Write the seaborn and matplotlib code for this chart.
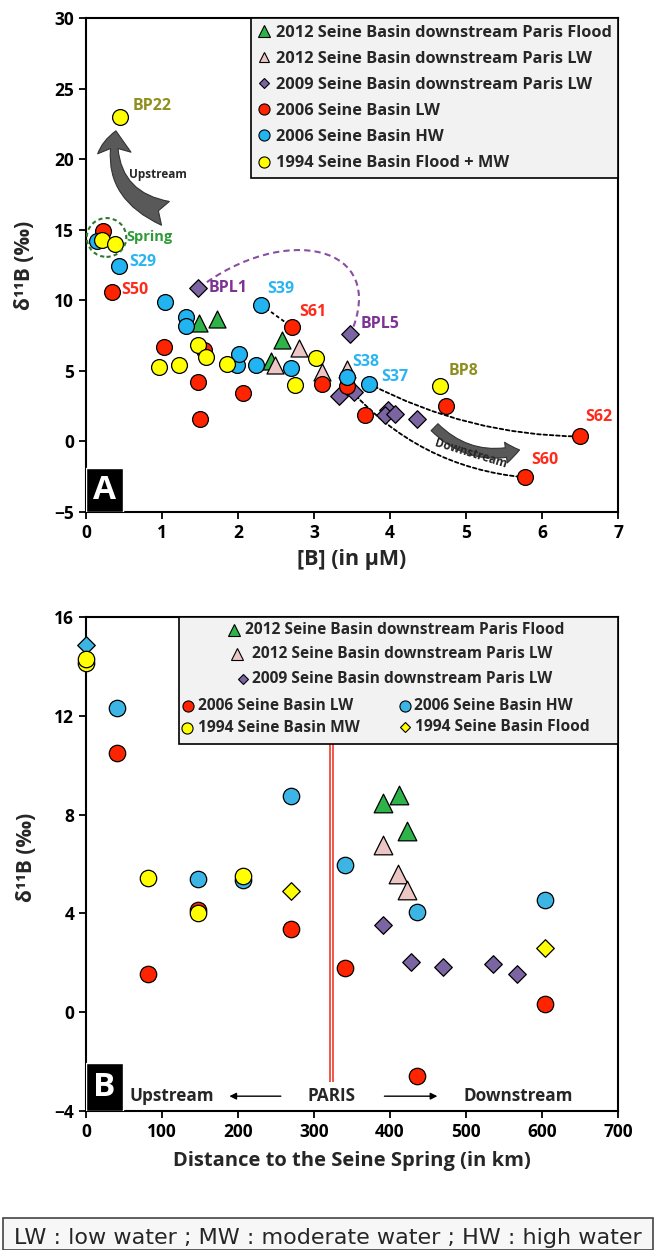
import numpy as np
import pandas as pd
import matplotlib
matplotlib.use("Agg")
import matplotlib.pyplot as plt
import seaborn as sns
from matplotlib.lines import Line2D
from matplotlib.patches import Rectangle, Ellipse, FancyArrowPatch, PathPatch
from matplotlib.path import Path

# ---- panel A : d11B vs [B] ----
a_flood12_x = [1.49, 1.73, 2.58, 2.43]
a_flood12_y = [8.4, 8.7, 7.2, 5.7]
a_lw12_x = [2.49, 2.80, 3.10, 3.43]
a_lw12_y = [5.45, 6.6, 4.9, 5.1]
a_lw09_x = [1.48, 3.48, 3.33, 3.53, 3.98, 3.94, 4.07, 4.36]
a_lw09_y = [10.85, 7.6, 3.2, 3.5, 2.25, 1.85, 1.95, 1.6]
a_lw06_x = [0.22, 0.34, 1.03, 1.47, 1.50, 1.55, 2.06, 2.71, 3.11, 3.44, 3.67, 4.74, 5.78, 6.50]
a_lw06_y = [14.9, 10.6, 6.7, 4.2, 1.6, 6.5, 3.45, 8.1, 4.05, 3.9, 1.85, 2.5, -2.55, 0.35]
a_hw06_x = [0.14, 0.43, 1.04, 1.32, 1.32, 1.99, 2.01, 2.24, 2.30, 2.70, 3.43, 3.72]
a_hw06_y = [14.2, 12.4, 9.9, 8.85, 8.2, 5.45, 6.2, 5.4, 9.7, 5.2, 4.6, 4.1]
a_fmw94_x = [0.45, 0.21, 0.38, 0.96, 1.22, 1.48, 1.58, 1.85, 2.75, 3.02, 4.66]
a_fmw94_y = [23.0, 14.3, 14.0, 5.3, 5.45, 6.8, 6.0, 5.5, 4.0, 5.9, 3.9]

# sample names shown next to points (x, y of the label)
a_names = ["BP22", "S29", "S50", "BPL1", "S39", "S61", "BPL5", "S38", "S37", "BP8", "S62", "S60"]
a_name_x = [0.61, 0.57, 0.47, 1.62, 2.39, 2.80, 3.62, 3.50, 3.88, 4.77, 6.57, 5.86]
a_name_y = [23.8, 12.7, 10.7, 10.85, 10.8, 9.2, 8.35, 5.6, 4.6, 5.0, 1.7, -1.35]
a_name_col = ["#8f8f1f", "#2ab5f2", "#ff2a1a", "#7d3294", "#2ab5f2", "#ff2a1a",
              "#7d3294", "#2ab5f2", "#2ab5f2", "#8f8f1f", "#ff2a1a", "#ff2a1a"]

# ---- panel B : d11B vs distance ----
b_flood12_x = [391, 412, 422]
b_flood12_y = [8.45, 8.8, 7.35]
b_lw12_x = [391, 411, 422]
b_lw12_y = [6.75, 5.6, 4.95]
b_lw09_x = [391, 427, 470, 536, 567]
b_lw09_y = [3.55, 2.05, 1.85, 1.95, 1.55]
b_lw06_x = [41, 81, 148, 270, 341, 436, 604]
b_lw06_y = [10.5, 1.55, 4.15, 3.35, 1.8, -2.6, 0.35]
b_hw06_x = [41, 148, 206, 270, 341, 436, 604]
b_hw06_y = [12.3, 5.4, 5.35, 8.75, 5.95, 4.05, 4.55]
b_spring_x = [0]
b_spring_y = [14.87]
b_mw94_x = [0, 0, 82, 148, 206]
b_mw94_y = [14.15, 14.3, 5.45, 4.0, 5.5]
b_flood94_x = [270, 604]
b_flood94_y = [4.9, 2.6]
paris_km = 323

RED = "#ff2400"
BLUE_A = "#22b4f0"
BLUE_B = "#3cb4e4"
YEL = "#ffff00"
GREEN = "#2db34a"
PINK = "#ecc6c4"
PURP = "#7a65a2"
FAM = ["Open Sans", "DejaVu Sans"]

sns.set_style("ticks")
plt.rcParams["font.family"] = FAM
plt.rcParams["font.weight"] = "bold"
plt.rcParams["axes.linewidth"] = 1.5

fig = plt.figure(figsize=(6.56, 12.5), dpi=100)
axA = fig.add_axes([86 / 656, 1 - 512 / 1250, 532 / 656, 494 / 1250])
axB = fig.add_axes([86 / 656, 1 - 1111 / 1250, 532 / 656, 494 / 1250])


def pts(ax, xs, ys, color, marker, s):
    df = pd.DataFrame({"x": xs, "y": ys})
    sns.scatterplot(data=df, x="x", y="y", ax=ax, color=color, marker=marker, s=s,
                    edgecolor="black", linewidth=0.9, legend=False, zorder=3)


# ---------------- panel A ----------------
pts(axA, a_flood12_x, a_flood12_y, GREEN, "^", 150)
pts(axA, a_lw12_x, a_lw12_y, PINK, "^", 150)
pts(axA, a_lw09_x, a_lw09_y, PURP, "D", 80)
pts(axA, a_lw06_x, a_lw06_y, RED, "o", 130)
pts(axA, a_hw06_x, a_hw06_y, BLUE_A, "o", 130)
pts(axA, a_fmw94_x, a_fmw94_y, YEL, "o", 130)

for n, x, y, c in zip(a_names, a_name_x, a_name_y, a_name_col):
    axA.text(x, y, n, color=c, fontsize=11.5, fontweight="bold", ha="left", va="center")

# dashed connections between sampling points
axA.plot([a_hw06_x[8], a_lw06_x[7]], [a_hw06_y[8], a_lw06_y[7]], ls=(0, (2, 1.5)),
         color="black", lw=1.3, zorder=2)
for (x0, y0), (x1, y1), rad in [((a_hw06_x[11], a_hw06_y[11]), (a_lw06_x[13], a_lw06_y[13]), 0.12),
                                ((a_lw06_x[9], a_lw06_y[9]), (a_lw06_x[12], a_lw06_y[12]), 0.2)]:
    axA.add_patch(FancyArrowPatch((x0, y0), (x1, y1), arrowstyle="-", connectionstyle=f"arc3,rad={rad}",
                                  ls=(0, (2, 1.5)), lw=1.3, color="black", zorder=2,
                                  shrinkA=0, shrinkB=0))
p0 = (a_lw09_x[0], a_lw09_y[0])
p3 = (a_lw09_x[1], a_lw09_y[1])
curve = Path([p0, (2.6, 15.5), (4.0, 14.0), p3], [Path.MOVETO, Path.CURVE4, Path.CURVE4, Path.CURVE4])
axA.add_patch(PathPatch(curve, fill=False, ec="#8a4fa0", lw=1.5, ls=(0, (3, 2)), zorder=2))

# spring circle
axA.add_patch(Ellipse((0.27, 14.45), 0.52, 2.75, fill=False, ec="#2f7a2f", lw=1.5, ls=(0, (2, 1.5)), zorder=4))
axA.text(0.53, 14.45, "Spring", color="#2e9a3a", fontsize=10.5, fontweight="bold", va="center")

# curved flow arrows
axA.add_patch(FancyArrowPatch((1.08, 16.1), (0.40, 22.2), connectionstyle="arc3,rad=-0.45",
                              arrowstyle="fancy,head_length=16,head_width=24,tail_width=18",
                              fc="#595959", ec="#333333", lw=0.8, zorder=2))
axA.text(0.56, 18.9, "Upstream", fontsize=8.5, fontweight="bold", va="center")
axA.add_patch(FancyArrowPatch((4.56, 1.15), (5.74, -0.55), connectionstyle="arc3,rad=0.3",
                              arrowstyle="simple,head_length=10,head_width=15,tail_width=7",
                              fc="#595959", ec="#333333", lw=0.8, zorder=2))
axA.text(5.07, -0.85, "Downstream", fontsize=8.5, fontweight="bold", rotation=-17,
         ha="center", va="center")

axA.set_xlim(0, 7)
axA.set_ylim(-5, 30)
axA.set_xticks(range(0, 8))
axA.set_yticks(range(-5, 31, 5))
axA.set_xlabel("[B] (in μM)", fontsize=15.5, fontweight="bold", labelpad=5)
axA.set_ylabel("")

hA = [Line2D([], [], ls="none", marker="^", ms=8, mfc=GREEN, mec="black", mew=0.8),
      Line2D([], [], ls="none", marker="^", ms=7, mfc=PINK, mec="black", mew=0.8),
      Line2D([], [], ls="none", marker="D", ms=5.5, mfc=PURP, mec="black", mew=0.8),
      Line2D([], [], ls="none", marker="o", ms=8, mfc=RED, mec="black", mew=0.8),
      Line2D([], [], ls="none", marker="o", ms=8, mfc=BLUE_A, mec="black", mew=0.8),
      Line2D([], [], ls="none", marker="o", ms=8, mfc=YEL, mec="black", mew=0.8)]
lA = ["2012 Seine Basin downstream Paris Flood", "2012 Seine Basin downstream Paris LW",
      "2009 Seine Basin downstream Paris LW", "2006 Seine Basin LW", "2006 Seine Basin HW",
      "1994 Seine Basin Flood + MW"]
leg = axA.legend(hA, lA, loc="upper right", bbox_to_anchor=(1, 1), borderaxespad=0,
                 fancybox=False, framealpha=1, facecolor="#f2f2f2", edgecolor="black",
                 prop={"family": FAM, "weight": "bold", "size": 11.8},
                 handlelength=0.8, handletextpad=0.3, labelspacing=0.62, borderpad=0.4)
leg.get_frame().set_linewidth(1.2)
axA.add_patch(Rectangle((0, 0), 0.07, 0.089, transform=axA.transAxes, fc="black", zorder=6))
axA.text(0.035, 0.044, "A", transform=axA.transAxes, color="white", fontsize=24,
         fontweight="bold", ha="center", va="center", zorder=7)

# ---------------- panel B ----------------
axB.vlines([paris_km - 2, paris_km + 2], -2.83, 16, color="#ee2a1a", lw=1.1, zorder=1)
pts(axB, b_flood12_x, b_flood12_y, GREEN, "^", 180)
pts(axB, b_lw12_x, b_lw12_y, PINK, "^", 180)
pts(axB, b_lw09_x, b_lw09_y, PURP, "D", 80)
pts(axB, b_spring_x, b_spring_y, BLUE_B, "D", 80)
pts(axB, b_lw06_x, b_lw06_y, RED, "o", 140)
pts(axB, b_hw06_x, b_hw06_y, BLUE_B, "o", 140)
pts(axB, b_mw94_x, b_mw94_y, YEL, "o", 140)
pts(axB, b_flood94_x, b_flood94_y, YEL, "D", 80)
for c in axB.collections:
    c.set_clip_on(False)

axB.set_xlim(0, 700)
axB.set_ylim(-4, 16)
axB.set_xticks(range(0, 701, 100))
axB.set_yticks(range(-4, 17, 4))
axB.set_xlabel("Distance to the Seine Spring (in km)", fontsize=14.5, fontweight="bold", labelpad=7)
axB.set_ylabel("")

axB.text(paris_km, -3.4, "PARIS", fontsize=12.3, fontweight="bold", ha="center", va="center")
axB.text(57, -3.4, "Upstream", fontsize=12.3, fontweight="bold", ha="left", va="center")
axB.text(497, -3.4, "Downstream", fontsize=12.3, fontweight="bold", ha="left", va="center")
axB.annotate("", xy=(185, -3.4), xytext=(260, -3.4),
             arrowprops=dict(arrowstyle="-|>", color="black", lw=1, mutation_scale=10))
axB.annotate("", xy=(466, -3.4), xytext=(389, -3.4),
             arrowprops=dict(arrowstyle="-|>", color="black", lw=1, mutation_scale=10))
axB.add_patch(Rectangle((0, 0), 0.07, 0.097, transform=axB.transAxes, fc="black", zorder=6))
axB.text(0.035, 0.048, "B", transform=axB.transAxes, color="white", fontsize=24,
         fontweight="bold", ha="center", va="center", zorder=7)

# legend of panel B, drawn by hand (3 centred rows + 2 columns)
def fx(px):
    return (px - 86) / 532


def fy(py):
    return 1 - (py - 617) / 494


axB.add_patch(Rectangle((fx(179), fy(744)), fx(618) - fx(179), fy(617) - fy(744),
                        transform=axB.transAxes, fc="#f2f2f2", ec="black", lw=1.2, zorder=8))
legB = [("^", GREEN, 234, 245, 630, "2012 Seine Basin downstream Paris Flood", 8),
        ("^", PINK, 237, 252, 654, "2012 Seine Basin downstream Paris LW", 8),
        ("D", PURP, 243, 252, 679, "2009 Seine Basin downstream Paris LW", 5),
        ("o", RED, 188, 198, 706, "2006 Seine Basin LW", 8),
        ("o", BLUE_B, 405, 414, 706, "2006 Seine Basin HW", 8),
        ("o", YEL, 187, 198, 728, "1994 Seine Basin MW", 8),
        ("D", YEL, 405, 415, 727, "1994 Seine Basin Flood", 5)]
for m, col, mx, tx, ty, lab, ms in legB:
    axB.plot([fx(mx)], [fy(ty)], marker=m, ms=ms, mfc=col, mec="black", mew=0.8,
             ls="none", transform=axB.transAxes, zorder=9, clip_on=False)
    axB.text(fx(tx), fy(ty), lab, transform=axB.transAxes, fontsize=11.2, fontweight="bold",
             ha="left", va="center", zorder=9)

for ax in (axA, axB):
    for s in ax.spines.values():
        s.set_visible(True)
        s.set_linewidth(1.5)
        s.set_color("black")
    ax.tick_params(direction="out", length=5, width=1.3, labelsize=12.5, colors="black")
    for t in ax.get_xticklabels() + ax.get_yticklabels():
        t.set_fontweight("bold")

fig.text(25 / 656, 1 - 265 / 1250, "δ¹¹B (‰)", rotation=90, fontsize=15, fontweight="bold",
         ha="center", va="center")
fig.text(27 / 656, 1 - 857 / 1250, "δ¹¹B (‰)", rotation=90, fontsize=15, fontweight="bold",
         ha="center", va="center")

# footnote box
fig.patches.append(Rectangle((3 / 656, 0), 650 / 656, 32 / 1250, transform=fig.transFigure,
                             fc="#f7f7f7", ec="#444444", lw=1.2))
fig.text(328 / 656, 12 / 1250, "LW : low water ; MW : moderate water ; HW : high water",
         family="DejaVu Sans", fontweight="normal", fontsize=16, ha="center", va="center")

fig.savefig("out.png", dpi=100)
